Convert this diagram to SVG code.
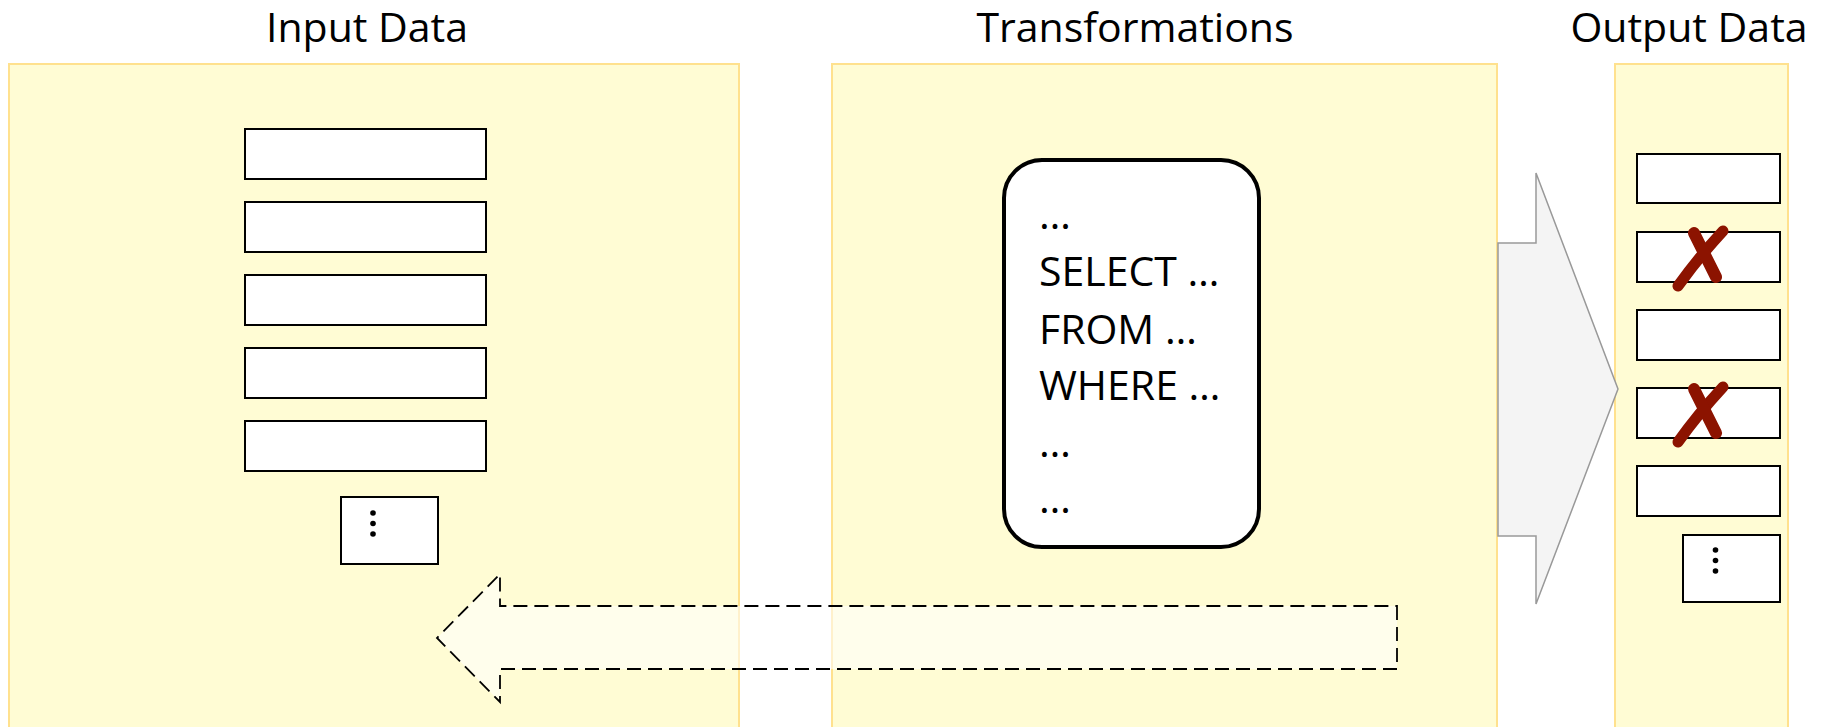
<svg xmlns="http://www.w3.org/2000/svg" width="1829" height="727" viewBox="0 0 1829 727">
  <defs>
    <style>
      .title { font-family: "Open Sans", "Noto Sans", sans-serif; font-size: 41px; fill: #000; text-anchor: middle; }
      .code { font-family: "Open Sans", "Noto Sans", sans-serif; font-size: 41px; fill: #000; }
      .panel { fill: #FFFCD4; stroke: #FFE18E; stroke-width: 2; }
      .row { fill: #FFFFFF; stroke: #000; stroke-width: 2; }
      .dot { fill: #000; }
      .cross { fill: none; stroke: #8C1300; stroke-linecap: round; }
    </style>
  </defs>

  <rect width="1829" height="727" fill="#FFFFFF"/>

  <!-- titles -->
  <text class="title" x="367" y="42">Input Data</text>
  <text class="title" x="1135" y="42">Transformations</text>
  <text class="title" x="1689" y="42">Output Data</text>

  <!-- stage panels -->
  <g id="input-panel">
    <rect class="panel" x="9" y="64" width="730" height="670"/>
  </g>
  <g id="transform-panel">
    <rect class="panel" x="832" y="64" width="665" height="670"/>
  </g>
  <g id="output-panel">
    <rect class="panel" x="1615" y="64" width="173" height="670"/>
  </g>

  <!-- input rows -->
  <g id="input-rows">
    <rect class="row" x="245" y="129" width="241" height="50"/>
    <rect class="row" x="245" y="202" width="241" height="50"/>
    <rect class="row" x="245" y="275" width="241" height="50"/>
    <rect class="row" x="245" y="348" width="241" height="50"/>
    <rect class="row" x="245" y="421" width="241" height="50"/>
    <rect class="row" x="341" y="497" width="97" height="67"/>
    <circle class="dot" cx="373" cy="513" r="2.8"/>
    <circle class="dot" cx="373" cy="523.5" r="2.8"/>
    <circle class="dot" cx="373" cy="534" r="2.8"/>
  </g>

  <!-- query box -->
  <g id="query">
    <rect x="1004" y="160" width="255" height="387" rx="38" ry="38" fill="#FFFFFF" stroke="#000" stroke-width="4"/>
    <text class="code" x="1039" y="229">…</text>
    <text class="code" x="1039" y="286">SELECT …</text>
    <text class="code" x="1039" y="344">FROM …</text>
    <text class="code" x="1039" y="400">WHERE …</text>
    <text class="code" x="1039" y="457">…</text>
    <text class="code" x="1039" y="513">…</text>
  </g>

  <!-- output rows -->
  <g id="output-rows">
    <rect class="row" x="1637" y="154" width="143" height="49"/>
    <rect class="row" x="1637" y="232" width="143" height="50"/>
    <rect class="row" x="1637" y="310" width="143" height="50"/>
    <rect class="row" x="1637" y="388" width="143" height="50"/>
    <rect class="row" x="1637" y="466" width="143" height="50"/>
    <rect class="row" x="1683" y="535" width="97" height="67"/>
    <circle class="dot" cx="1715.5" cy="550" r="2.8"/>
    <circle class="dot" cx="1715.5" cy="560.5" r="2.8"/>
    <circle class="dot" cx="1715.5" cy="571" r="2.8"/>
  </g>

  <!-- rejected rows -->
  <g id="reject-marks">
    <g id="reject-1">
      <path class="cross" d="M1678,286 Q1698,258 1723,231" stroke-width="11"/>
      <path class="cross" d="M1694,233 L1716,277" stroke-width="12" stroke-linecap="butt"/>
    </g>
    <g id="reject-2" transform="translate(0,156)">
      <path class="cross" d="M1678,286 Q1698,258 1723,231" stroke-width="11"/>
      <path class="cross" d="M1694,233 L1716,277" stroke-width="12" stroke-linecap="butt"/>
    </g>
  </g>

  <!-- flow arrows -->
  <g id="connectors">
    <path id="flow-out" d="M1498,243 L1536,243 L1536,173 L1618,389 L1536,604 L1536,536 L1498,536 Z" fill="#F4F4F4" stroke="#999999" stroke-width="1.5" stroke-linejoin="miter"/>
    <path id="flow-back" d="M1397,606 L1397,669 L500,669 L500,702 L437,638 L500,574 L500,606 Z" fill="#FFFFFF" fill-opacity="0.55" stroke="#000" stroke-width="1.8" stroke-dasharray="14 7"/>
  </g>
</svg>
